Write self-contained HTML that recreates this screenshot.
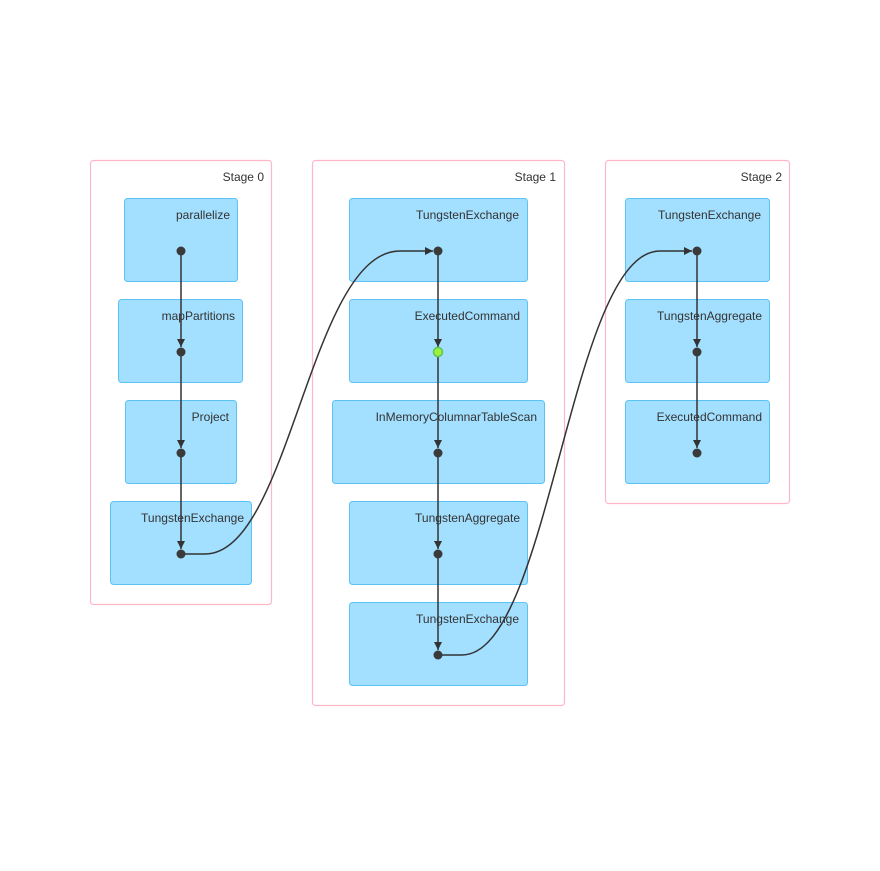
<!DOCTYPE html>
<html><head><style>
html,body{margin:0;padding:0;background:#fff;}
svg text{font-family:"Liberation Sans",sans-serif;font-size:12px;fill:#333;}
</style></head><body>
<svg width="880" height="866" viewBox="0 0 880 866" xmlns="http://www.w3.org/2000/svg">
<defs>
<marker id="ah" viewBox="0 0 10 10" refX="10" refY="5" markerWidth="8" markerHeight="8" markerUnits="userSpaceOnUse" orient="auto">
<path d="M0,0 L10,5 L0,10 z" fill="#333"/>
</marker>
</defs>
<g fill="none" stroke="#ffb6c8" stroke-width="1.2">
<rect x="90.5" y="160.5" width="181" height="444" rx="3"/>
<rect x="312.5" y="160.5" width="252" height="545" rx="3"/>
<rect x="605.5" y="160.5" width="184" height="343" rx="3"/>
</g>
<text x="264" y="181" text-anchor="end">Stage 0</text>
<text x="556" y="181" text-anchor="end">Stage 1</text>
<text x="782" y="181" text-anchor="end">Stage 2</text>
<g fill="#a3dffe" stroke="#5cc3f5" stroke-width="1">
<rect x="124.5" y="198.5" width="113" height="83" rx="3"/>
<rect x="118.5" y="299.5" width="124" height="83" rx="3"/>
<rect x="125.5" y="400.5" width="111" height="83" rx="3"/>
<rect x="110.5" y="501.5" width="141" height="83" rx="3"/>
<rect x="349.5" y="198.5" width="178" height="83" rx="3"/>
<rect x="349.5" y="299.5" width="178" height="83" rx="3"/>
<rect x="332.5" y="400.5" width="212" height="83" rx="3"/>
<rect x="349.5" y="501.5" width="178" height="83" rx="3"/>
<rect x="349.5" y="602.5" width="178" height="83" rx="3"/>
<rect x="625.5" y="198.5" width="144" height="83" rx="3"/>
<rect x="625.5" y="299.5" width="144" height="83" rx="3"/>
<rect x="625.5" y="400.5" width="144" height="83" rx="3"/>
</g>
<g text-anchor="end">
<text x="230" y="219">parallelize</text>
<text x="235" y="320">mapPartitions</text>
<text x="229" y="421">Project</text>
<text x="244" y="522">TungstenExchange</text>
<text x="519" y="219">TungstenExchange</text>
<text x="520" y="320">ExecutedCommand</text>
<text x="537" y="421">InMemoryColumnarTableScan</text>
<text x="520" y="522">TungstenAggregate</text>
<text x="519" y="623">TungstenExchange</text>
<text x="761" y="219">TungstenExchange</text>
<text x="762" y="320">TungstenAggregate</text>
<text x="762" y="421">ExecutedCommand</text>
</g>
<g stroke="#333" stroke-width="1.5" fill="none" marker-end="url(#ah)">
<path d="M181,251 V347"/>
<path d="M181,352 V448"/>
<path d="M181,453 V549"/>
<path d="M438,251 V347"/>
<path d="M438,352 V448"/>
<path d="M438,453 V549"/>
<path d="M438,554 V650"/>
<path d="M697,251 V347"/>
<path d="M697,352 V448"/>
<path d="M181,554 L205,554 C290,554 310,251 400,251 L433,251"/>
<path d="M438,655 L462,655 C550,655 570,251 660,251 L692,251"/>
</g>
<g fill="#3a3a3a">
<circle cx="181" cy="251" r="4.5"/><circle cx="181" cy="352" r="4.5"/>
<circle cx="181" cy="453" r="4.5"/><circle cx="181" cy="554" r="4.5"/>
<circle cx="438" cy="251" r="4.5"/><circle cx="438" cy="453" r="4.5"/>
<circle cx="438" cy="554" r="4.5"/><circle cx="438" cy="655" r="4.5"/>
<circle cx="697" cy="251" r="4.5"/><circle cx="697" cy="352" r="4.5"/>
<circle cx="697" cy="453" r="4.5"/>
</g>
<circle cx="438" cy="352" r="4.5" fill="#9cf23a" stroke="#5cc45c" stroke-width="1.5"/>
</svg>
</body></html>
